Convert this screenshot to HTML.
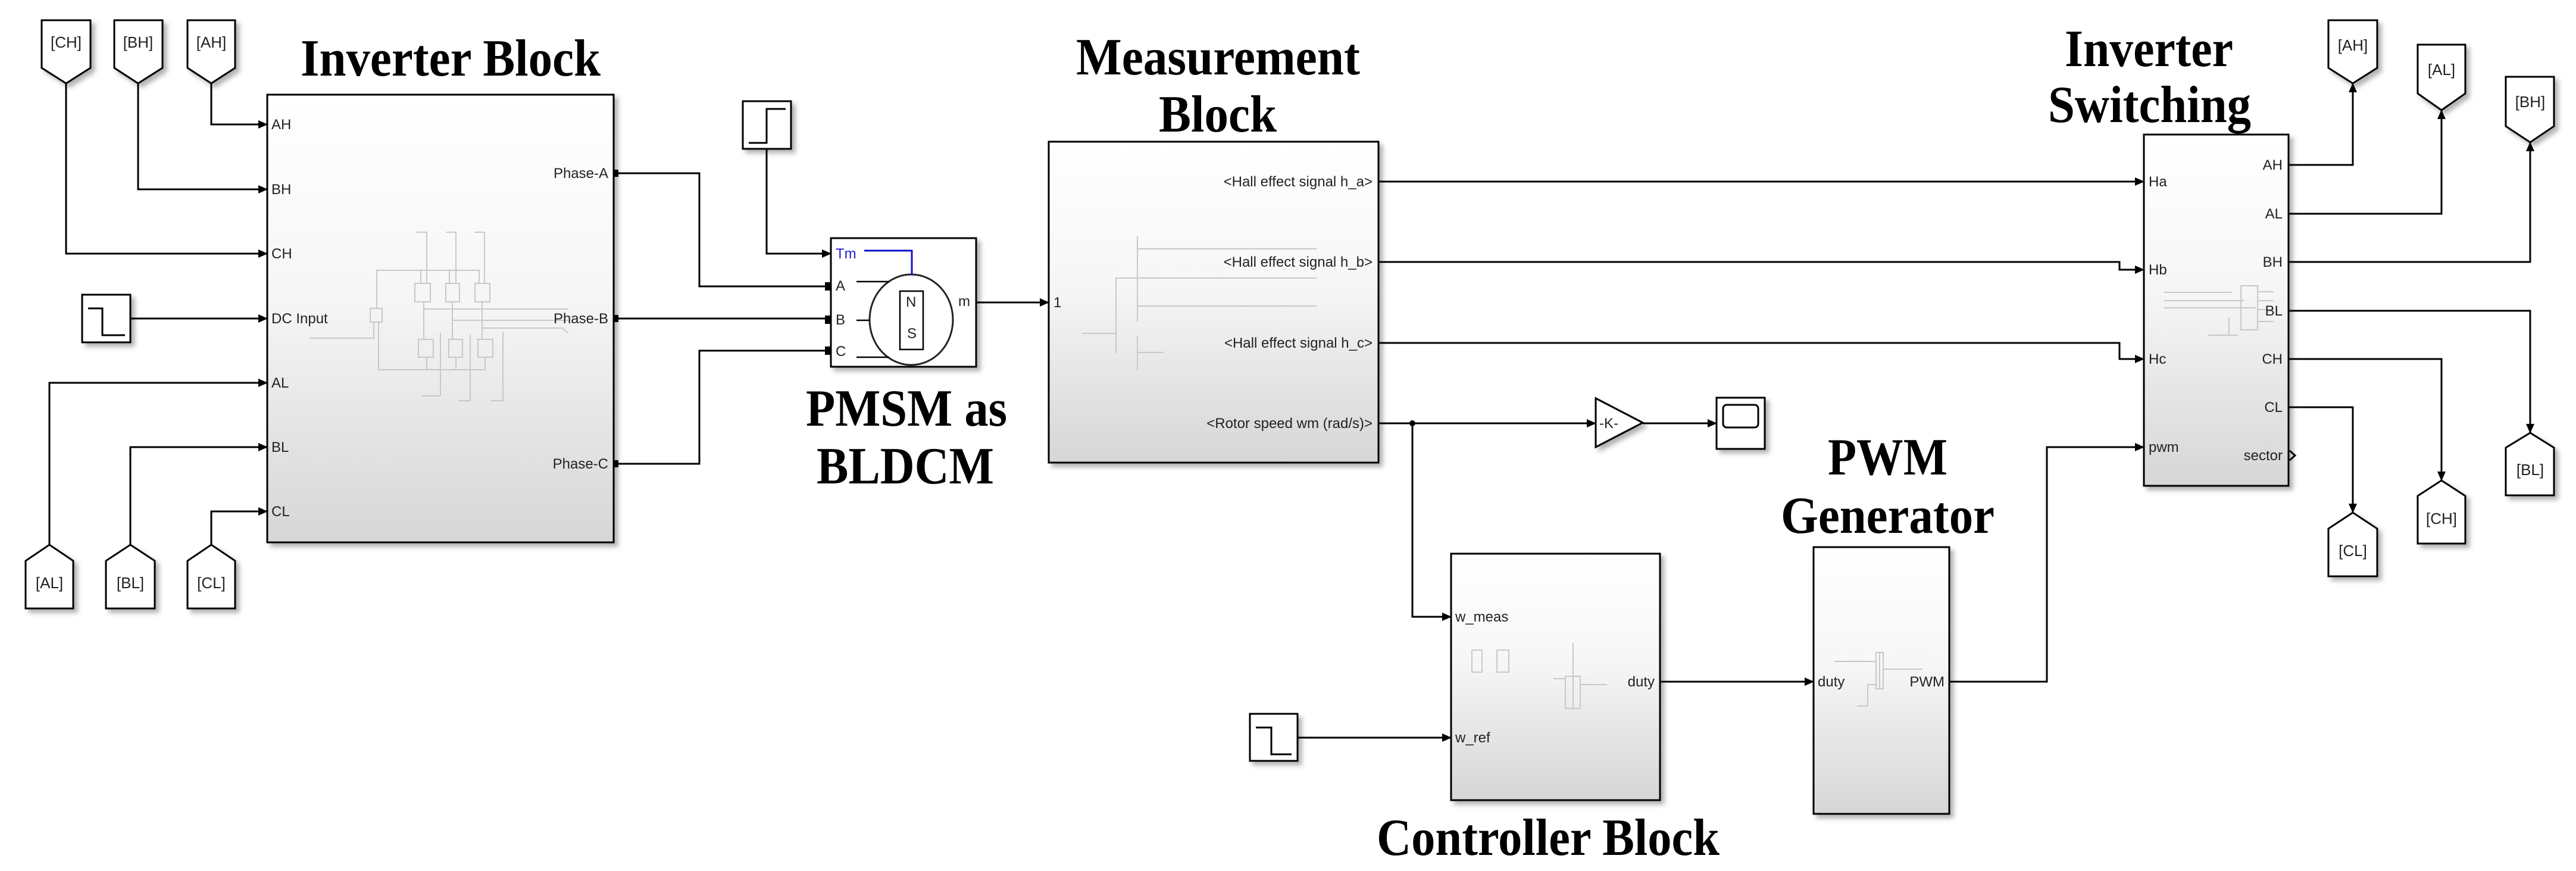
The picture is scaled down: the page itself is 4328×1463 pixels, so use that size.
<!DOCTYPE html>
<html><head><meta charset="utf-8"><style>
html,body{margin:0;padding:0;background:#fff;}
svg{display:block;}
.t{font-family:"Liberation Serif",serif;font-weight:bold;font-size:88px;fill:#000;}
.p{font-family:"Liberation Sans",sans-serif;font-size:24px;fill:#222;}
.g{font-family:"Liberation Sans",sans-serif;font-size:26px;fill:#222;}
.w{stroke:#000;stroke-width:3;fill:none;}
.f{stroke:#c8c8c8;stroke-width:2;fill:none;}
</style></head><body>
<svg width="4328" height="1463" viewBox="0 0 4328 1463" xmlns="http://www.w3.org/2000/svg">
<defs>
<linearGradient id="gr" x1="0" y1="0" x2="0" y2="1">
<stop offset="0" stop-color="#ffffff"/><stop offset="0.45" stop-color="#f6f6f6"/><stop offset="1" stop-color="#d6d6d6"/></linearGradient>
<filter id="sh" x="-10%" y="-10%" width="130%" height="130%"><feDropShadow dx="6" dy="6" stdDeviation="4" flood-color="#000" flood-opacity="0.3"/></filter>
<marker id="a" markerWidth="16" markerHeight="14" refX="15" refY="7" orient="auto" markerUnits="userSpaceOnUse"><path d="M0,0 L16,7 L0,14 Z" fill="#000"/></marker>
</defs>

<text class="t" x="505" y="127" textLength="504" lengthAdjust="spacingAndGlyphs">Inverter Block</text>
<text class="t" x="1354" y="715" textLength="338" lengthAdjust="spacingAndGlyphs">PMSM as</text>
<text class="t" x="1372" y="812" textLength="298" lengthAdjust="spacingAndGlyphs">BLDCM</text>
<text class="t" x="1808" y="125" textLength="477" lengthAdjust="spacingAndGlyphs">Measurement</text>
<text class="t" x="1947" y="221" textLength="198" lengthAdjust="spacingAndGlyphs">Block</text>
<text class="t" x="3071" y="797" textLength="201" lengthAdjust="spacingAndGlyphs">PWM</text>
<text class="t" x="2992" y="895" textLength="359" lengthAdjust="spacingAndGlyphs">Generator</text>
<text class="t" x="2313" y="1436" textLength="576" lengthAdjust="spacingAndGlyphs">Controller Block</text>
<text class="t" x="3469" y="111" textLength="283" lengthAdjust="spacingAndGlyphs">Inverter</text>
<text class="t" x="3441" y="205" textLength="341" lengthAdjust="spacingAndGlyphs">Switching</text>

<g fill="#fff" stroke="#000" stroke-width="3" filter="url(#sh)">
<path d="M70,34 H152 V114 L111,140 L70,114 Z"/>
<path d="M192,34 H273 V114 L232,140 L192,114 Z"/>
<path d="M315,34 H395 V114 L355,140 L315,114 Z"/>
<path d="M43,1022 H123 V942 L83,915 L43,942 Z"/>
<path d="M178,1022 H260 V942 L219,915 L178,942 Z"/>
<path d="M315,1022 H395 V942 L355,915 L315,942 Z"/>
<path d="M3912,34 H3994 V114 L3953,140 L3912,114 Z"/>
<path d="M4062,75 H4142 V157 L4102,185 L4062,157 Z"/>
<path d="M4210,129 H4291 V212 L4251,239 L4210,212 Z"/>
<path d="M3912,968 H3994 V888 L3953,861 L3912,888 Z"/>
<path d="M4062,913 H4142 V833 L4102,807 L4062,833 Z"/>
<path d="M4210,832 H4291 V752 L4251,727 L4210,752 Z"/>
</g>
<g class="g" text-anchor="middle">
<text x="111" y="80">[CH]</text><text x="232" y="80">[BH]</text><text x="355" y="80">[AH]</text>
<text x="83" y="988">[AL]</text><text x="219" y="988">[BL]</text><text x="355" y="988">[CL]</text>
<text x="3953" y="85">[AH]</text><text x="4102" y="126">[AL]</text><text x="4251" y="180">[BH]</text>
<text x="3953" y="934">[CL]</text><text x="4102" y="880">[CH]</text><text x="4251" y="798">[BL]</text>
</g>

<g filter="url(#sh)">
<rect x="449" y="159" width="582" height="752" fill="url(#gr)" stroke="#000" stroke-width="3"/>
<rect x="1762" y="238" width="554" height="539" fill="url(#gr)" stroke="#000" stroke-width="3"/>
<rect x="2438" y="930" width="351" height="414" fill="url(#gr)" stroke="#000" stroke-width="3"/>
<rect x="3047" y="919" width="228" height="448" fill="url(#gr)" stroke="#000" stroke-width="3"/>
<rect x="3602" y="226" width="243" height="590" fill="url(#gr)" stroke="#000" stroke-width="3"/>
<rect x="1396" y="400" width="244" height="216" fill="#fff" stroke="#000" stroke-width="3"/>
<rect x="138" y="495" width="81" height="80" fill="#fff" stroke="#000" stroke-width="3"/>
<rect x="1248" y="170" width="81" height="80" fill="#fff" stroke="#000" stroke-width="3"/>
<rect x="2100" y="1199" width="80" height="79" fill="#fff" stroke="#000" stroke-width="3"/>
<rect x="2884" y="668" width="81" height="86" fill="#fff" stroke="#000" stroke-width="3"/>
<path d="M2681,669 L2760,710 L2681,751 Z" fill="#fff" stroke="#000" stroke-width="3"/>
</g>
<path d="M148,518 H172 V563 H210" class="w"/>
<path d="M1258,240 H1288 V183 H1320" class="w"/>
<path d="M2110,1222 H2136 V1267 H2170" class="w"/>
<rect x="2895" y="680" width="59" height="38" rx="6" fill="#fff" stroke="#000" stroke-width="3"/>
<text class="p" x="2687" y="719">-K-</text>

<g class="f">
<rect x="697" y="476" width="26" height="31"/><rect x="749" y="476" width="23" height="31"/><rect x="798" y="476" width="25" height="31"/>
<rect x="703" y="570" width="25" height="30"/><rect x="754" y="570" width="23" height="30"/><rect x="803" y="570" width="25" height="30"/>
<rect x="622" y="518" width="20" height="23"/>
<path d="M633,518 V454 H805 V476 M707,454 V476 M755,454 V476"/>
<path d="M636,541 V621 H815 V600 M717,621 V600 M766,621 V600"/>
<path d="M712,507 V570 M760,507 V570 M810,507 V570"/>
<path d="M712,519 H955 M760,538 H955 M810,551 H945 L955,560"/>
<path d="M717,390 V476 M766,390 V476 M814,390 V476 M700,390 H717 M750,390 H766 M797,390 H814"/>
<path d="M739,560 H740 V665 H708 M790,562 V673 H770 M845,557 V673 H825"/>
<path d="M520,568 H628 V541"/>
</g>
<g class="f">
<path d="M1911,397 V540 M1911,565 V622 M1911,418 H2212 M1875,467 H2212 M1911,514 H2212 M1875,467 V593 M1818,560 H1875 M1911,592 H1955"/>
<path d="M3636,491 H3750 M3636,505 H3770 M3636,517 H3790 M3765,480 V554 H3793 V480 Z M3793,490 H3820 M3793,505 H3820 M3793,520 H3820 M3793,540 H3820 M3745,533 V564 M3710,563 H3760"/>
<path d="M3158,1096 V1157 M3152,1096 H3164 V1157 H3152 Z M3082,1111 H3152 M3164,1124 H3230 M3152,1150 H3138 V1186 H3120"/>
<path d="M2643,1080 V1190 M2630,1136 H2655 V1190 H2630 Z M2610,1140 H2630 M2655,1150 H2700"/>
<path d="M2473,1092 H2490 V1129 H2473 Z M2515,1092 H2535 V1129 H2515 Z"/>
</g>

<ellipse cx="1531" cy="537" rx="70" ry="76" fill="#fff" stroke="#222" stroke-width="3"/>
<rect x="1512" y="489" width="39" height="98" fill="#fff" stroke="#000" stroke-width="2.5"/>
<text class="p" x="1522" y="515" font-size="22">N</text>
<text class="p" x="1524" y="568" font-size="22">S</text>
<path d="M1452,421 H1532 V462" stroke="#1010c8" stroke-width="3" fill="none"/>
<path d="M1439,473 H1494 M1439,538 H1461 M1439,600 H1494" stroke="#000" stroke-width="2.5"/>
<text class="p" x="1404" y="434" style="fill:#2020d0">Tm</text>
<text class="p" x="1404" y="488">A</text><text class="p" x="1404" y="545">B</text><text class="p" x="1404" y="598">C</text>
<text class="p" x="1610" y="514">m</text>

<g class="p">
<text x="456" y="217">AH</text><text x="456" y="326">BH</text><text x="456" y="434">CH</text>
<text x="456" y="543">DC Input</text><text x="456" y="651">AL</text><text x="456" y="759">BL</text><text x="456" y="867">CL</text>
</g>
<g class="p" text-anchor="end">
<text x="1022" y="299">Phase-A</text><text x="1022" y="543">Phase-B</text><text x="1022" y="787">Phase-C</text>
<text x="2306" y="313">&lt;Hall effect signal h_a&gt;</text>
<text x="2306" y="448">&lt;Hall effect signal h_b&gt;</text>
<text x="2306" y="584">&lt;Hall effect signal h_c&gt;</text>
<text x="2306" y="719">&lt;Rotor speed wm (rad/s)&gt;</text>
<text x="2780" y="1153">duty</text>
<text x="3267" y="1153">PWM</text>
<text x="3835" y="285">AH</text><text x="3835" y="367">AL</text><text x="3835" y="448">BH</text>
<text x="3835" y="530">BL</text><text x="3835" y="611">CH</text><text x="3835" y="692">CL</text><text x="3835" y="773">sector</text>
</g>
<g class="p">
<text x="1770" y="516">1</text>
<text x="2445" y="1044">w_meas</text><text x="2445" y="1247">w_ref</text>
<text x="3054" y="1153">duty</text>
<text x="3610" y="313">Ha</text><text x="3610" y="461">Hb</text><text x="3610" y="611">Hc</text><text x="3610" y="759">pwm</text>
</g>

<g class="w" marker-end="url(#a)">
<path d="M355,140 V209 H449"/>
<path d="M232,140 V318 H449"/>
<path d="M111,140 V426 H449"/>
<path d="M219,535 H449"/>
<path d="M83,915 V643 H449"/>
<path d="M219,915 V751 H449"/>
<path d="M355,915 V859 H449"/>
<path d="M1288,250 V426 H1396"/>
<path d="M1640,508 H1762"/>
<path d="M2316,305 H3602"/>
<path d="M2316,440 H3561 V453 H3602"/>
<path d="M2316,576 H3561 V603 H3602"/>
<path d="M2316,711 H2681"/>
<path d="M2760,711 H2884"/>
<path d="M2373,711 V1036 H2438"/>
<path d="M2180,1239 H2438"/>
<path d="M2789,1145 H3047"/>
<path d="M3275,1145 H3439 V751 H3602"/>
<path d="M3845,277 H3953 V140"/>
<path d="M3845,359 H4102 V185"/>
<path d="M3845,440 H4251 V239"/>
<path d="M3845,522 H4251 V727"/>
<path d="M3845,603 H4102 V807"/>
<path d="M3845,684 H3953 V861"/>
</g>
<path class="w" d="M1031,291 H1175 V481 H1396 M1031,535 H1396 M1031,779 H1175 V589 H1396"/>
<circle cx="2373" cy="711" r="5" fill="#000"/>
<g fill="#000">
<rect x="1031" y="285" width="8" height="12"/><rect x="1031" y="529" width="8" height="12"/><rect x="1031" y="773" width="8" height="12"/>
<rect x="1386" y="474" width="10" height="14"/><rect x="1386" y="530" width="10" height="14"/><rect x="1386" y="582" width="10" height="14"/>
</g>
<path d="M3847,757 L3856,765 L3847,773" class="w"/>
</svg>
</body></html>
